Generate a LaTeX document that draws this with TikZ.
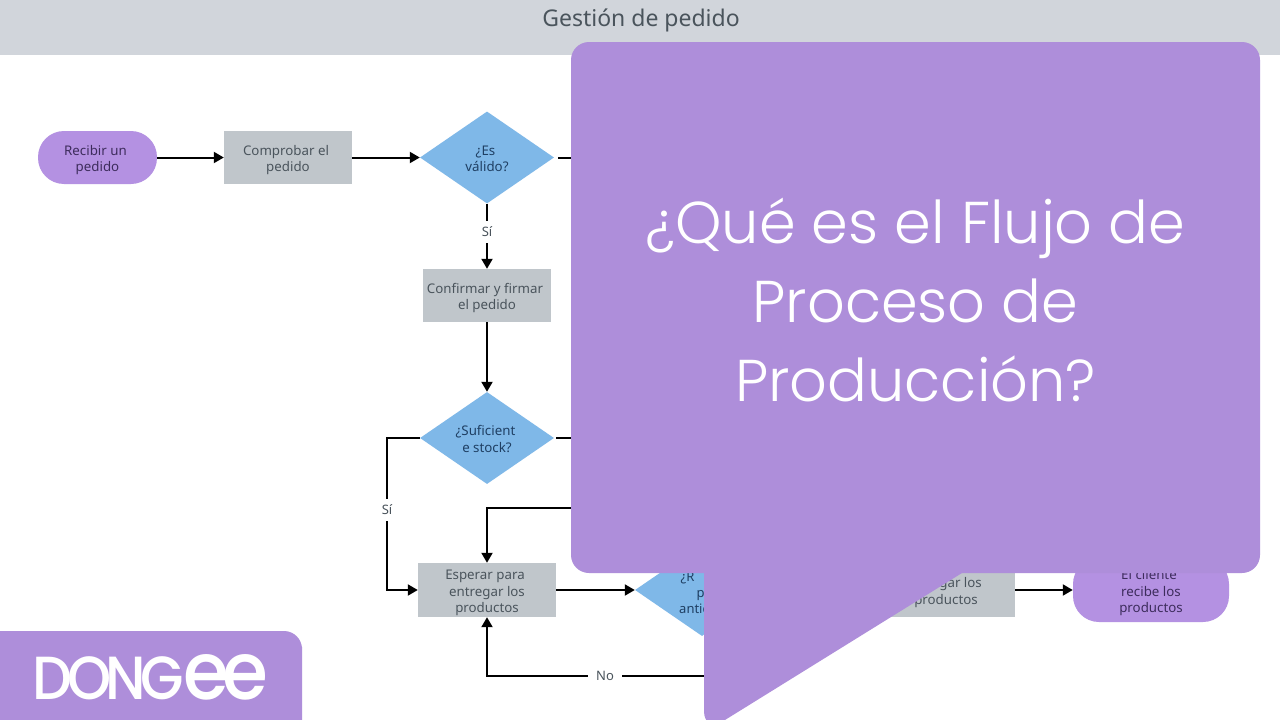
\documentclass[tikz,border=0pt]{standalone}
\usepackage{fontspec}
\usepackage{graphicx}
\setmainfont{Noto Sans}
\newfontfamily\titlefont{Poppins Light}
\newfontfamily\logofont{Poppins Medium}
\usetikzlibrary{shapes.geometric,arrows.meta,calc}
\definecolor{headgray}{HTML}{D1D5DB}
\definecolor{boxgray}{HTML}{C0C6CB}
\definecolor{diablue}{HTML}{7FB8E8}
\definecolor{termpurple}{HTML}{B491E2}
\definecolor{bubblepurple}{HTML}{AE8EDA}
\definecolor{inkgray}{HTML}{4A545C}
\definecolor{inkblue}{HTML}{1F3F63}
\definecolor{inkpurple}{HTML}{3D2C5C}
\newcommand\firstline{\hspace*{-4pt}\rule{0pt}{15.5pt}}
\newcommand\firstdia{\hspace*{-3pt}\rule{0pt}{12.5pt}}
\tikzset{
  x=1pt,y=-1pt,
  boxtxt/.style={font=\fontsize{13.3}{16.4}\selectfont,align=center,inner sep=0pt},
  procbox/.style={boxtxt,rectangle,fill=boxgray,text=inkgray,minimum width=#1,minimum height=53},
  procbox/.default=128,
  decide/.style={boxtxt,diamond,fill=diablue,text=inkblue,minimum width=134,minimum height=92,aspect=1.46},
  term/.style={boxtxt,rectangle,rounded corners=26,fill=termpurple,text=inkpurple},
  link/.style={draw=black,line width=2pt,-{Triangle[length=10pt,width=11pt]}},
  plainlink/.style={draw=black,line width=2pt},
  edgetxt/.style={font=\fontsize{13}{16}\selectfont,text=inkgray,fill=white,inner xsep=8pt,inner ysep=6pt},
  frag/.style={font=\fontsize{13}{16}\selectfont,text=inkblue,inner sep=0pt,anchor=base west},
}
\begin{document}
\begin{tikzpicture}
\useasboundingbox (0,0) rectangle (1280,720);
\fill[white] (0,0) rectangle (1280,720);
\fill[headgray] (0,0) rectangle (1280,55);
\node[font=\fontsize{23}{27}\selectfont,text=inkgray,inner sep=0pt] (head) at (641,20) {Gestión de pedido};

\node[term,minimum width=119,minimum height=53] (recv) at (97.5,157.5) {\firstline Recibir un\\pedido};
\node[procbox] (check) at (288,157.5) {\firstline Comprobar el\\pedido};
\node[decide] (valid) at (487,157.5) {\firstdia ¿Es\\válido?};
\node[procbox] (confirm) at (487,295.5) {\firstline Confirmar y firmar\\el pedido};
\node[decide] (stock) at (487,438) {\firstdia ¿Suficient\\e stock?};
\node[procbox=138,minimum height=54] (wait) at (487,590) {\firstline Esperar para\\entregar los\\productos};
\node[diamond,fill=diablue,minimum width=134,minimum height=92,aspect=1.46,inner sep=0pt] (adv) at (702,590) {};
\node[frag] (fa) at (680.5,581) {¿R};
\node[frag] (fb) at (696.5,597) {p};
\node[frag] (fc) at (679,613) {antic};
\node[procbox=138,minimum height=54] (deliver) at (946,590) {\firstline Entregar los\\productos};
\node[term,minimum width=156,minimum height=64] (client) at (1151,590) {\firstline El cliente\\recibe los\\productos};

\coordinate (v1) at (640,157.5);
\coordinate (s1) at (640,438);
\coordinate (t1) at (640,507.5);
\coordinate (n1) at (760,675.5);
\coordinate (sl) at (387,438);
\coordinate (sb) at (387,590);
\coordinate (tc) at (487,507.5);
\coordinate (nc) at (487,675.5);

\draw[link] (recv) -- (check);
\draw[link] (check) -- (valid);
\draw[plainlink,shorten <=4pt] (valid) -- (v1);
\draw[link] (valid) -- node[edgetxt,pos=0.43] (si1) {Sí} (confirm);
\draw[link] (confirm) -- (stock);
\draw[plainlink,shorten <=2pt] (stock) -- (s1);
\draw[link] (stock.west) -- (sl) -- (sb) -- (wait.west);
\node[edgetxt] (si2) at (387,510) {Sí};
\draw[link] (t1) -- (tc) -- (wait.north);
\draw[link] (wait) -- (adv);
\draw[link] (deliver) -- (client);
\draw[link] (n1) -- (nc) -- (wait.south);
\node[edgetxt] (no) at (605,675.5) {No};

% overlaid speech bubble: body and tail
\fill[bubblepurple,rounded corners=18] (571,42) rectangle (1260,573);
\fill[bubblepurple] (704,560) [rounded corners=22] -- (704,733) [sharp corners] -- (962,573) -- (962,560) -- cycle;
\node[font=\titlefont\fontsize{59}{79}\selectfont,text=white,align=center,inner sep=0pt] (title) at (915.5,300.5) {¿Qué es el Flujo de\\Proceso de\\Producción?};

% logo badge
\fill[bubblepurple] (0,631) -- (280,631) [rounded corners=18] -- (302,631) -- (302,665) [sharp corners] -- (302,720) -- (0,720) -- cycle;
\node[inner sep=0pt,text=white,anchor=base] (logo) at (150.5,699) {\resizebox{235pt}{45pt}{\logofont\addfontfeature{LetterSpace=-10}DONG\scalebox{1.32}{ee}}};
\end{tikzpicture}
\end{document}
